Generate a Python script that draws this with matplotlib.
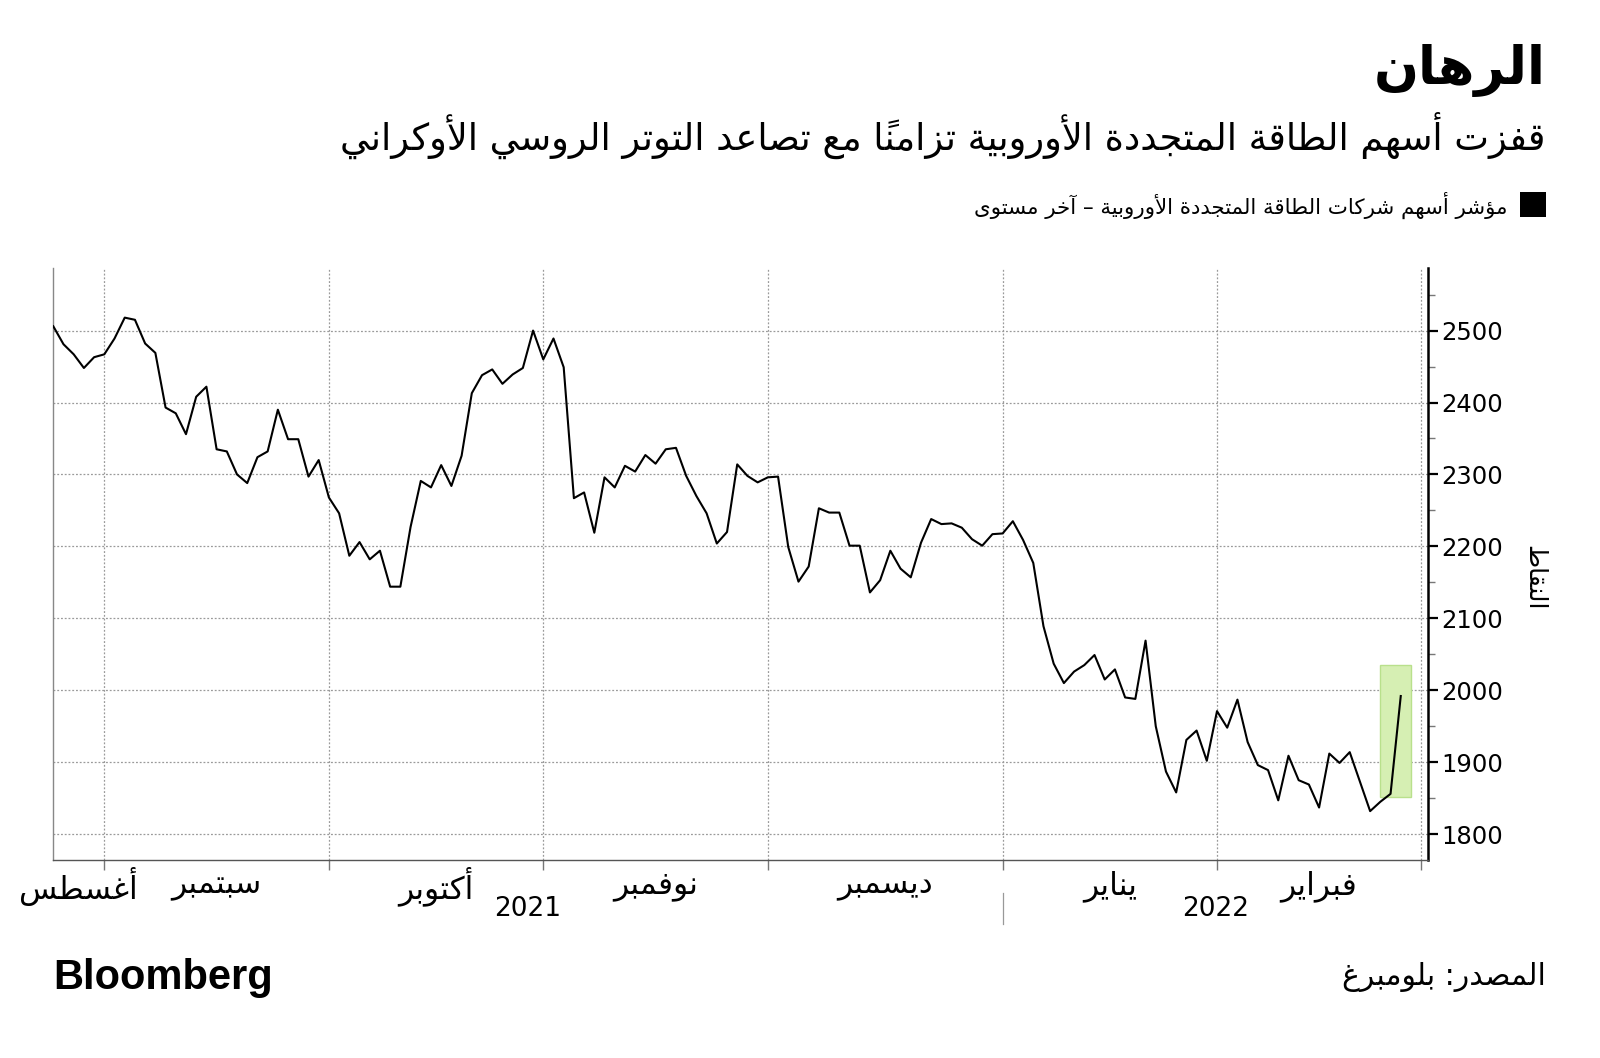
import matplotlib
matplotlib.use("Agg")
import matplotlib.pyplot as plt
from matplotlib.patches import Rectangle
from matplotlib.ticker import MultipleLocator, FixedLocator
import numpy as np

# مؤشر أسهم الطاقة المتجددة الأوروبية - آخر مستوى، يوم تداول لكل قيمة (من 25 أغسطس 2021)
values = [
    2506, 2481, 2467, 2448, 2463, 2467, 2489, 2518, 2515, 2482, 2469, 2393, 2385,
    2356, 2408, 2422, 2335, 2332, 2300, 2288, 2324, 2332, 2390, 2349, 2349, 2297,
    2320, 2268, 2246, 2187, 2206, 2182, 2194, 2144, 2144, 2227, 2291,
    2282, 2313, 2284, 2326, 2413, 2438, 2446, 2426, 2439, 2448, 2500, 2460, 2489,
    2449, 2267, 2275, 2219, 2296, 2282, 2312, 2304, 2327, 2315, 2335, 2337, 2298,
    2270, 2246, 2204, 2220, 2314, 2298, 2289, 2296, 2297,
    2199, 2151, 2172, 2253, 2247, 2247, 2201, 2201, 2136, 2153, 2194, 2169, 2157,
    2205, 2238, 2231, 2232, 2226, 2210, 2201, 2217, 2218, 2235, 2209, 2177,
    2089, 2037, 2010, 2026, 2035, 2049, 2015, 2029, 1990, 1988, 2069, 1950, 1887,
    1858, 1931, 1944, 1902, 1971, 1948, 1987, 1928, 1896, 1889, 1847, 1909, 1875,
    1869, 1837, 1912, 1899, 1914, 1873, 1832, 1845, 1856, 1992,
]
# أول يوم تداول في كل شهر (سبتمبر ... مارس)
month_starts = [5, 27, 48, 70, 93, 114, 134]
month_names = ["أغسطس", "سبتمبر", "أكتوبر", "نوفمبر", "ديسمبر", "يناير", "فبراير"]
years = ["2021", "2022"]
year_start = 93

title = "الرهان"
subtitle = "قفزت أسهم الطاقة المتجددة الأوروبية تزامناً مع تصاعد التوتر الروسي الأوكراني"
legend_label = "مؤشر أسهم شركات الطاقة المتجددة الأوروبية – آخر مستوى"
y_label = "النقاط"
source = "المصدر: بلومبرغ"

# --- تشكيل الحروف العربية يدوياً (matplotlib لا يدعم الربط ولا الاتجاه) ---
PF = {'ء': (0xFE80, 1), 'آ': (0xFE81, 2), 'أ': (0xFE83, 2), 'ؤ': (0xFE85, 2),
      'إ': (0xFE87, 2), 'ئ': (0xFE89, 4), 'ا': (0xFE8D, 2), 'ب': (0xFE8F, 4),
      'ة': (0xFE93, 2), 'ت': (0xFE95, 4), 'ث': (0xFE99, 4), 'ج': (0xFE9D, 4),
      'ح': (0xFEA1, 4), 'خ': (0xFEA5, 4), 'د': (0xFEA9, 2), 'ذ': (0xFEAB, 2),
      'ر': (0xFEAD, 2), 'ز': (0xFEAF, 2), 'س': (0xFEB1, 4), 'ش': (0xFEB5, 4),
      'ص': (0xFEB9, 4), 'ض': (0xFEBD, 4), 'ط': (0xFEC1, 4), 'ظ': (0xFEC5, 4),
      'ع': (0xFEC9, 4), 'غ': (0xFECD, 4), 'ف': (0xFED1, 4), 'ق': (0xFED5, 4),
      'ك': (0xFED9, 4), 'ل': (0xFEDD, 4), 'م': (0xFEE1, 4), 'ن': (0xFEE5, 4),
      'ه': (0xFEE9, 4), 'و': (0xFEED, 2), 'ى': (0xFEEF, 2), 'ي': (0xFEF1, 4)}
LAM_ALEF = {'آ': 0xFEF5, 'أ': 0xFEF7, 'إ': 0xFEF9, 'ا': 0xFEFB}
HARAKAT = set('\u064B\u064C\u064D\u064E\u064F\u0650\u0651\u0652')


def _jtype(u):
    b = u[0]
    if isinstance(b, tuple):
        return 'R'
    if b in PF:
        return {1: 'U', 2: 'R', 4: 'D'}[PF[b][1]]
    return 'U'


def ar(text):
    units = []
    i = 0
    while i < len(text):
        c = text[i]
        if c in HARAKAT and units:
            units[-1][1].append(c)
        elif c == 'ل' and i + 1 < len(text) and text[i + 1] in LAM_ALEF:
            units.append([('LA', text[i + 1]), []])
            i += 1
        else:
            units.append([c, []])
        i += 1
    out = []
    for k, u in enumerate(units):
        t = _jtype(u)
        prev = k > 0 and _jtype(units[k - 1]) == 'D' and t != 'U'
        nxt = t == 'D' and k + 1 < len(units) and _jtype(units[k + 1]) in ('D', 'R')
        b = u[0]
        if isinstance(b, tuple):
            g = chr(LAM_ALEF[b[1]] + (1 if prev else 0))
        elif t == 'R':
            g = chr(PF[b][0] + (1 if prev else 0))
        elif t == 'D':
            g = chr(PF[b][0] + (3 if prev and nxt else 1 if prev else 2 if nxt else 0))
        elif b in PF:
            g = chr(PF[b][0])
        else:
            g = b
        out.append(g + ''.join(u[1]))
    return ''.join(reversed(out))


plt.rcParams['font.family'] = ['DejaVu Sans']

fig = plt.figure(figsize=(16, 10.58), dpi=100)
ax = fig.add_axes([0.0333, 0.1871, 0.8594, 0.5596])

x = np.arange(len(values))
ax.plot(x, values, color='black', lw=1.5, zorder=3)

# منطقة الإبراز الخضراء حول القفزة الأخيرة
x0 = len(values) - 3
y0 = min(values[-2:]) - 5
y1 = max(values[-2:]) + 43
ax.add_patch(Rectangle((x0, y0), 3, y1 - y0, facecolor='#d6efb3',
                       edgecolor='#b9e08c', lw=1, zorder=2))

ax.set_xlim(0, month_starts[-1] + 0.7)
ax.set_ylim(1764, 2587)

# المحور الأيمن
ax.yaxis.tick_right()
ax.yaxis.set_major_locator(MultipleLocator(100))
ax.yaxis.set_minor_locator(MultipleLocator(50))
ax.tick_params(axis='y', which='major', length=7, width=1.6, color='black',
               labelsize=17.5, pad=2)
ax.tick_params(axis='y', which='minor', length=5, width=1, color='#777777')
ax.set_yticks([1800, 1900, 2000, 2100, 2200, 2300, 2400, 2500])

ax.xaxis.set_major_locator(FixedLocator(month_starts))
ax.tick_params(axis='x', which='major', length=7, width=1, color='#777777',
               labelbottom=False)

ax.grid(True, axis='both', which='major', linestyle=(0, (1.5, 1.5)),
        color='#9a9a9a', lw=0.9)
ax.set_axisbelow(True)

ax.spines['top'].set_visible(False)
ax.spines['right'].set_linewidth(1.8)
ax.spines['right'].set_color('black')
ax.spines['left'].set_color('#888888')
ax.spines['left'].set_linewidth(1)
ax.spines['bottom'].set_color('#555555')
ax.spines['bottom'].set_linewidth(1)

# أسماء الأشهر في منتصف كل شهر
bounds = [0] + month_starts
for i, name in enumerate(month_names):
    mid = (bounds[i] + bounds[i + 1]) / 2
    ax.text(mid, -0.044, ar(name), transform=ax.get_xaxis_transform(),
            ha='center', va='center', fontsize=22.5)

xmax = ax.get_xlim()[1]
ax.text(year_start / 2, -0.083, years[0], transform=ax.get_xaxis_transform(),
        ha='center', va='center', fontsize=19)
ax.text((year_start + xmax) / 2, -0.083, years[1], transform=ax.get_xaxis_transform(),
        ha='center', va='center', fontsize=19)
ax.plot([year_start, year_start], [-0.056, -0.108], transform=ax.get_xaxis_transform(),
        color='#999999', lw=0.9, clip_on=False)

# عنوان المحور
fig.text(0.959, 0.454, ar(y_label), rotation=-90, ha='center', va='center', fontsize=18)

# العناوين
fig.text(0.966, 0.933, ar(title), ha='right', va='center', fontsize=38, fontweight='bold')
fig.text(0.966, 0.872, ar(subtitle), ha='right', va='center', fontsize=26.5)

# وسيلة الإيضاح
fig.patches.append(Rectangle((0.9503, 0.7946), 0.016, 0.0241, facecolor='black',
                             transform=fig.transFigure, figure=fig))
fig.text(0.9425, 0.806, ar(legend_label), ha='right', va='center', fontsize=15.4)

# التذييل
fig.text(0.0333, 0.076, "Bloomberg", ha='left', va='center', fontsize=30,
         fontweight='bold', family=['Liberation Sans'])
fig.text(0.966, 0.0766, ar(source), ha='right', va='center', fontsize=21.5)

fig.savefig("out.png", dpi=100, facecolor='white')
